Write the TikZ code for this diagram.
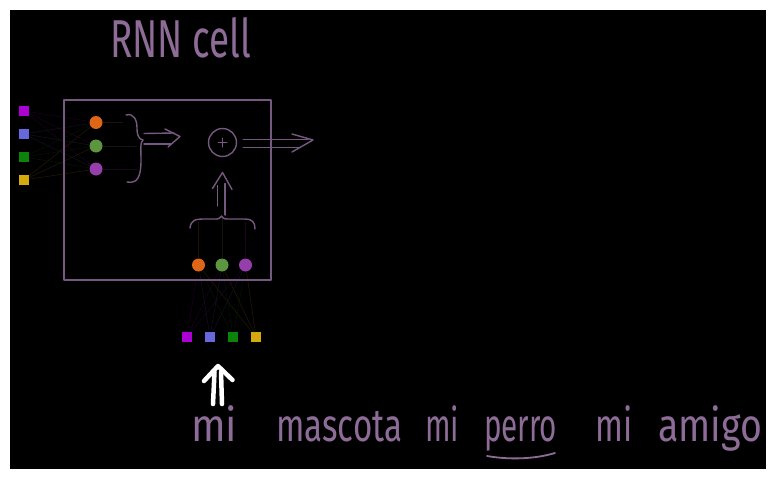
\documentclass[tikz,border=0pt]{standalone}
\usepackage{fontspec}
\usepackage{graphicx}
\IfFontExistsTF{FiraSans-Thin.otf}
  {\newfontfamily\handfont{FiraSans-Thin.otf}}
  {\IfFontExistsTF{FiraSans-ExtraLight.otf}
    {\newfontfamily\handfont{FiraSans-ExtraLight.otf}}
    {\IfFontExistsTF{FiraSans-Light.otf}
      {\newfontfamily\handfont{FiraSans-Light.otf}}
      {\newfontfamily\handfont{Fira Sans}}}}
\definecolor{inkc}{RGB}{118,88,128}
\definecolor{textc}{RGB}{142,108,152}
\definecolor{sqm}{RGB}{172,0,212}
\definecolor{sqb}{RGB}{104,104,222}
\definecolor{sqg}{RGB}{12,132,12}
\definecolor{sqy}{RGB}{212,170,12}
\definecolor{cor}{RGB}{222,102,22}
\definecolor{cgr}{RGB}{92,150,62}
\definecolor{cpu}{RGB}{150,62,172}
\begin{document}
\begin{tikzpicture}[x=1pt,y=-1pt,
  sqr/.style={rectangle,minimum size=9.5pt,inner sep=0pt,fill=#1},
  dot/.style={circle,minimum size=13pt,inner sep=0pt,fill=#1},
  ink/.style={draw=inkc,line width=1.4pt,line cap=round,line join=round},
  faint/.style={draw=#1!16!black,line width=0.5pt},
  word/.style={text=textc,anchor=base west,inner sep=0pt,font=\handfont\fontsize{46}{50}\selectfont},
  whitearrow/.style={draw=white,line width=4.5pt,line cap=round,line join=round}]
\useasboundingbox (0,0) rectangle (776,479);
\fill[white] (0,0) rectangle (776,479);
\fill[black] (10,10) rectangle (766,469);

% input squares (left)
\node[sqr=sqm] (L1) at (24,111) {};
\node[sqr=sqb] (L2) at (24,134) {};
\node[sqr=sqg] (L3) at (24,157) {};
\node[sqr=sqy] (L4) at (24,180) {};
% hidden-state circles (left)
\node[dot=cor] (A1) at (96,122.5) {};
\node[dot=cgr] (A2) at (96,146) {};
\node[dot=cpu] (A3) at (96,169) {};
% input circles (bottom)
\node[dot=cor] (B1) at (198.5,265) {};
\node[dot=cgr] (B2) at (222,265) {};
\node[dot=cpu] (B3) at (245.5,265) {};
% input squares (bottom)
\node[sqr=sqm] (S1) at (187,337) {};
\node[sqr=sqb] (S2) at (210,337) {};
\node[sqr=sqg] (S3) at (233,337) {};
\node[sqr=sqy] (S4) at (256,337) {};

\foreach \i/\c in {1/sqm,2/sqb,3/sqg,4/sqy}{
  \foreach \j in {1,2,3}{
    \draw[faint=\c] (L\i) -- (A\j);
    \draw[faint=\c] (S\i) -- (B\j);
  }
}

% faint links to the braces
\coordinate (ra1) at (123,122.5);
\coordinate (ra2) at (137,146);
\coordinate (ra3) at (138,169);
\coordinate (bb1) at (198.5,222);
\coordinate (bb2) at (222,218);
\coordinate (bb3) at (245.5,222);
\draw[faint=cor] (A1) -- (ra1);
\draw[faint=cgr] (A2) -- (ra2);
\draw[faint=cpu] (A3) -- (ra3);
\draw[faint=cor] (B1) -- (bb1);
\draw[faint=cgr] (B2) -- (bb2);
\draw[faint=cpu] (B3) -- (bb3);

% cell box
\draw[ink] (64,100) rectangle (271,280);

% right-hand brace
\coordinate (rbtip) at (143,140);
\draw[ink] (126,115) .. controls (134,113) and (137,120) .. (137,128)
  .. controls (137,136) and (139,139) .. (rbtip)
  .. controls (140,142) and (141,150) .. (141,160)
  .. controls (141,176) and (138,184) .. (127,182);
% double arrow to the right
\draw[ink] (144,133.5) -- (174,133);
\draw[ink] (144,144) -- (171,144);
\draw[ink] (165,129) -- (180,136.5) -- (168,147);

% sum circle
\node[ink,circle,minimum size=28pt,inner sep=0pt] (plus) at (222.5,142.5) {};
\draw[ink,line width=1pt] (plus.center) ++(-4.5,0) -- ++(9,0);
\draw[ink,line width=1pt] (plus.center) ++(0,-4.5) -- ++(0,9);

% output double arrow
\coordinate (outtip) at (313,140);
\draw[ink] (plus.east) ++(6,-3) -- (308,139.5);
\draw[ink] (plus.east) ++(6,5) -- (300,147.5);
\draw[ink] (292,134) -- (outtip) -- (292,152);

% up double arrow
\coordinate (uptip) at (222.5,172.5);
\draw[ink] (217.7,206) -- (217.7,185.5);
\draw[ink] (225,215) -- (225,183.5);
\draw[ink] (212.5,188.5) -- (uptip) -- (232,189.5);

% bottom brace
\draw[ink] (190,228) .. controls (191,220) and (195,219) .. (205,219) -- (214,219)
  .. controls (219,219) .. (221.5,216) .. controls (224,219) .. (230,219) -- (245,219)
  .. controls (252,219) and (255,222) .. (255,229);

% white arrow
\coordinate (wtip) at (218,366);
\draw[whitearrow] (213,404) -- (214.5,372);
\draw[whitearrow] (222,404) -- (221,372);
\draw[whitearrow] (204,381) -- (wtip) -- (232.5,380);

% title
\node[word,font=\handfont\fontsize{50}{54}\selectfont] (title) at (110,57) {\resizebox{141pt}{40pt}{RNN cell}};

% sentence
\node[word] (w1) at (191,441) {\resizebox{46pt}{\height}{mi}};
\node[word] (w2) at (276,441) {\resizebox{126pt}{\height}{mascota}};
\node[word] (w3) at (425,441) {\resizebox{34pt}{\height}{mi}};
\node[word] (w4) at (484,441) {\resizebox{73pt}{\height}{perro}};
\node[word] (w5) at (595,441) {\resizebox{37pt}{\height}{mi}};
\node[word] (w6) at (658,441) {\resizebox{104pt}{\height}{amigo}};
\draw[textc,line width=1.8pt,line cap=round] (w4.base west) ++(3,15) .. controls (510,460) and (535,459) .. (555,453);
\end{tikzpicture}
\end{document}
